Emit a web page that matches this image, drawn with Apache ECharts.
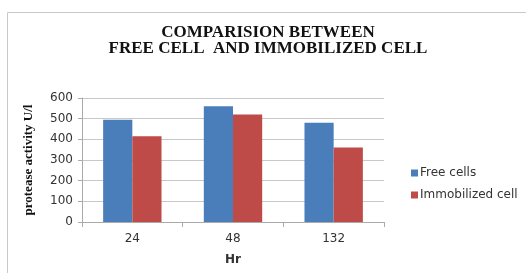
<!DOCTYPE html>
<html>
<head>
<meta charset="utf-8">
<script src="https://cdn.jsdelivr.net/npm/echarts@6/dist/echarts.min.js"></script>
<style>
  html, body { margin: 0; padding: 0; background: #fff; }
  #chart { width: 526px; height: 273px; }
</style>
</head>
<body>
<div id="chart"></div>
<script>
var hours = ['24', '48', '132'];
var freeCells = [495, 560, 480];
var immobilizedCells = [415, 520, 360];
var yTicks = [0, 100, 200, 300, 400, 500, 600];

var chart = echarts.init(document.getElementById('chart'));

var option = {
    animation: false,
    backgroundColor: '#fff',
    title: {
        text: 'COMPARISION BETWEEN\nFREE CELL  AND IMMOBILIZED CELL',
        left: 263,
        top: 20,
        textAlign: 'center',
        textStyle: {
            fontFamily: 'Liberation Serif',
            fontWeight: 'bold',
            fontSize: 17,
            lineHeight: 16,
            color: '#111'
        }
    },
    graphic: [{
        type: 'polyline',
        shape: { points: [[7.5, 273], [7.5, 12.5], [526, 12.5]] },
        style: { stroke: '#c8c8c8', lineWidth: 1, fill: null }
    }],
    legend: {
        data: ['Free cells', 'Immobilized cell'],
        orient: 'vertical',
        left: 406,
        top: 162,
        itemWidth: 7,
        itemHeight: 7,
        itemGap: 10,
        icon: 'rect',
        textStyle: { fontFamily: 'DejaVu Sans', fontSize: 12, color: '#333', padding: [0, 0, 0, -3] }
    },
    grid: {
        left: 82,
        top: 98,
        width: 302,
        height: 124
    },
    xAxis: {
        type: 'category',
        data: hours,
        name: 'Hr',
        nameLocation: 'middle',
        nameGap: 32,
        nameTextStyle: { fontFamily: 'DejaVu Sans', fontWeight: 'bold', fontSize: 12, color: '#333' },
        axisLine: { lineStyle: { color: '#aaa' } },
        axisTick: { show: true, length: 5, lineStyle: { color: '#aaa' } },
        axisLabel: { fontFamily: 'DejaVu Sans', fontSize: 12, color: '#333', margin: 11 }
    },
    yAxis: {
        type: 'value',
        min: yTicks[0],
        max: yTicks[yTicks.length - 1],
        interval: 100,
        name: 'protease activity U/l',
        nameLocation: 'middle',
        nameGap: 47,
        nameTextStyle: { fontFamily: 'Liberation Serif', fontWeight: 'bold', fontSize: 13, color: '#111' },
        axisLine: { show: true, lineStyle: { color: '#aaa' } },
        axisTick: { show: true, length: 4, lineStyle: { color: '#aaa' } },
        axisLabel: { fontFamily: 'DejaVu Sans', fontSize: 12, color: '#333', margin: 9 },
        splitLine: { lineStyle: { color: '#c8c8c8' } }
    },
    series: [
        {
            name: 'Free cells',
            type: 'bar',
            data: freeCells,
            barGap: '0%',
            barCategoryGap: '42%',
            itemStyle: { color: '#4a7ebb' }
        },
        {
            name: 'Immobilized cell',
            type: 'bar',
            data: immobilizedCells,
            itemStyle: { color: '#be4b48' }
        }
    ]
};

chart.setOption(option);
</script>
</body>
</html>
